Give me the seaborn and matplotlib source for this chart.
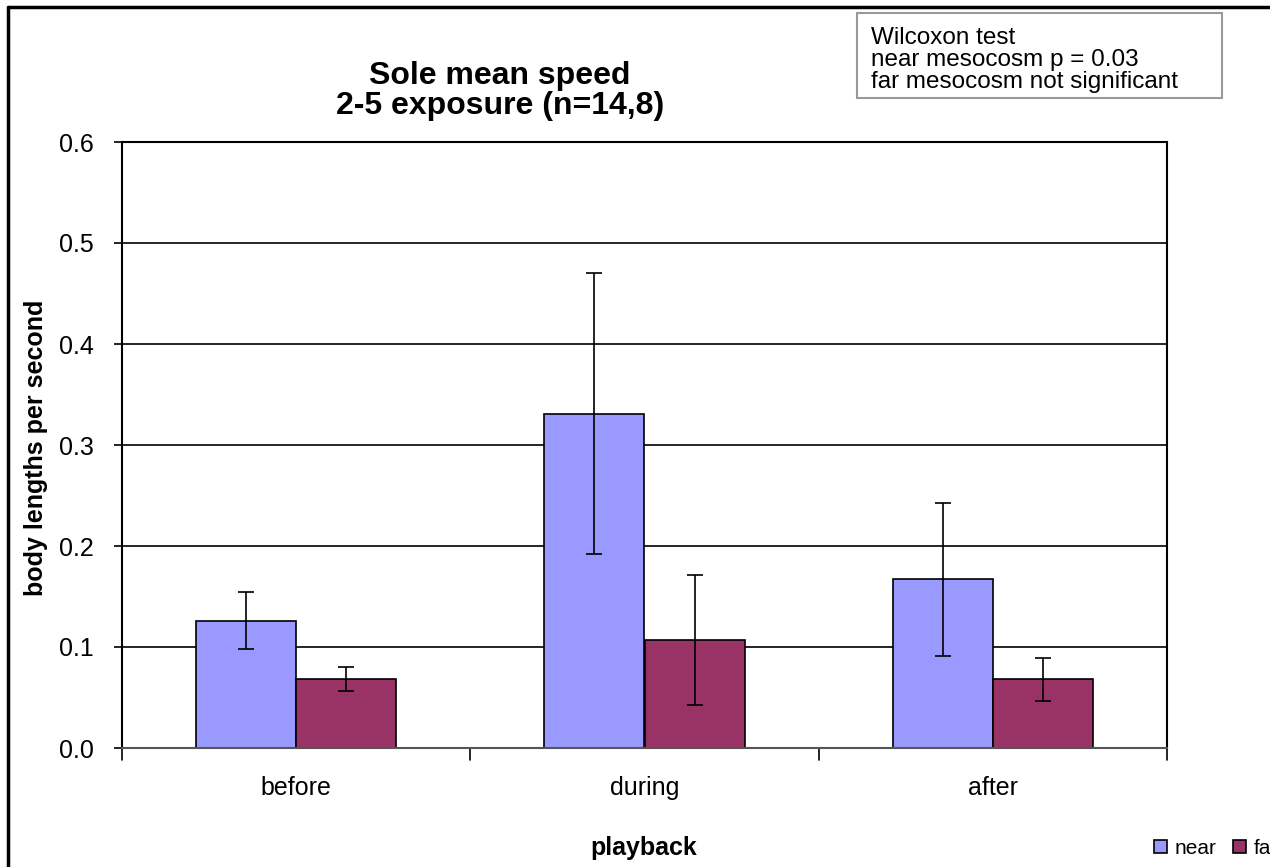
import matplotlib
matplotlib.use("Agg")
import matplotlib.pyplot as plt
import seaborn as sns
import pandas as pd
from matplotlib.patches import Patch, Rectangle
from matplotlib.lines import Line2D

categories = ["before", "during", "after"]
series = ["near", "far"]
near_vals = [0.126, 0.331, 0.167]
far_vals = [0.068, 0.107, 0.068]
near_err = [0.028, 0.139, 0.076]
far_err = [0.012, 0.064, 0.021]
yticks = [0.0, 0.1, 0.2, 0.3, 0.4, 0.5, 0.6]
colors = {"near": "#9999FF", "far": "#993366"}

df = pd.DataFrame({
    "playback": categories * 2,
    "series": ["near"] * 3 + ["far"] * 3,
    "value": near_vals + far_vals,
})

sns.set_theme(style="white")
plt.rcParams['font.family'] = ['Liberation Sans', 'DejaVu Sans']
plt.rcParams['text.color'] = 'black'
plt.rcParams['xtick.color'] = 'black'
plt.rcParams['ytick.color'] = 'black'

fig = plt.figure(figsize=(12.7, 8.67), dpi=100)
ax = fig.add_axes([122/1270, 1-748/867, (1167-122)/1270, (748-142)/867])

sns.barplot(data=df, x="playback", y="value", hue="series", hue_order=series,
            order=categories, palette=colors, width=0.575, gap=0,
            edgecolor="black", linewidth=1.2, errorbar=None, ax=ax, legend=False,
            saturation=1)

errs = {"near": near_err, "far": far_err}
for cont, s in zip(ax.containers, series):
    for bar, e in zip(cont, errs[s]):
        xc = bar.get_x() + bar.get_width() / 2
        ax.errorbar(xc, bar.get_height(), yerr=e, fmt="none", ecolor="black",
                    elinewidth=1.2, capsize=6, capthick=1.2, zorder=5)

ax.set_ylim(0, 0.6)
ax.set_xlim(-0.5, 2.5)
ax.set_yticks(yticks)
ax.set_yticklabels([f"{t:.1f}" for t in yticks], fontsize=18)
ax.yaxis.grid(True, color="black", linewidth=1.2)
ax.set_axisbelow(True)
for sp in ax.spines.values():
    sp.set_visible(True)
    sp.set_color("black")
    sp.set_linewidth(1.5)
ax.spines["bottom"].set_color("#555555")

ax.set_xticks([0, 1, 2])
ax.set_xticklabels(categories, fontsize=18)
ax.tick_params(axis="x", length=0, pad=20)
ax.tick_params(axis="y", left=True, length=6, width=1.2, color="black", direction="out", pad=14)
for xb in [-0.5, 0.5, 1.5, 2.5]:
    ax.plot([xb, xb], [0, -0.012], color="black", linewidth=1.2, clip_on=False,
            transform=ax.transData)
ax.set_xlabel("")
ax.set_ylabel("")

fig.text(500/1270, 1-91/867, "Sole mean speed\n2-5 exposure (n=14,8)", ha="center", va="center",
         fontsize=23, fontweight="bold", linespacing=1.0)
fig.text(36/1270, 1-448/867, "body lengths per second", rotation=90, ha="center", va="center",
         fontsize=18, fontweight="bold")
fig.text(644/1270, 1-848/867, "playback", ha="center", va="center", fontsize=18, fontweight="bold")

fig.patches.append(Rectangle((857/1270, 1-98/867), (1222-857)/1270, (98-13)/867,
                             transform=fig.transFigure, fill=False, edgecolor="#999999",
                             linewidth=1.5))
fig.text(871/1270, 1-60/867, "Wilcoxon test\nnear mesocosm p = 0.03\nfar mesocosm not significant",
         ha="left", va="center", fontsize=17.5, linespacing=1.02)

handles = [Patch(facecolor=colors[s], edgecolor="black", linewidth=1.2, label=s) for s in series]
leg = fig.legend(handles=handles, loc="center left", bbox_to_anchor=(1154/1270, 1-848/867),
                 ncol=2, frameon=False, fontsize=15, handlelength=0.6, handleheight=0.6,
                 handletextpad=0.4, columnspacing=0.8, borderaxespad=0, borderpad=0)

fig.add_artist(Line2D([7.5/1270, 7.5/1270], [0, 1-6.5/867], transform=fig.transFigure,
                      color="black", linewidth=2.5))
fig.add_artist(Line2D([7.5/1270, 1], [1-6.5/867, 1-6.5/867], transform=fig.transFigure,
                      color="black", linewidth=2.5))

fig.savefig("out.png", dpi=100)
